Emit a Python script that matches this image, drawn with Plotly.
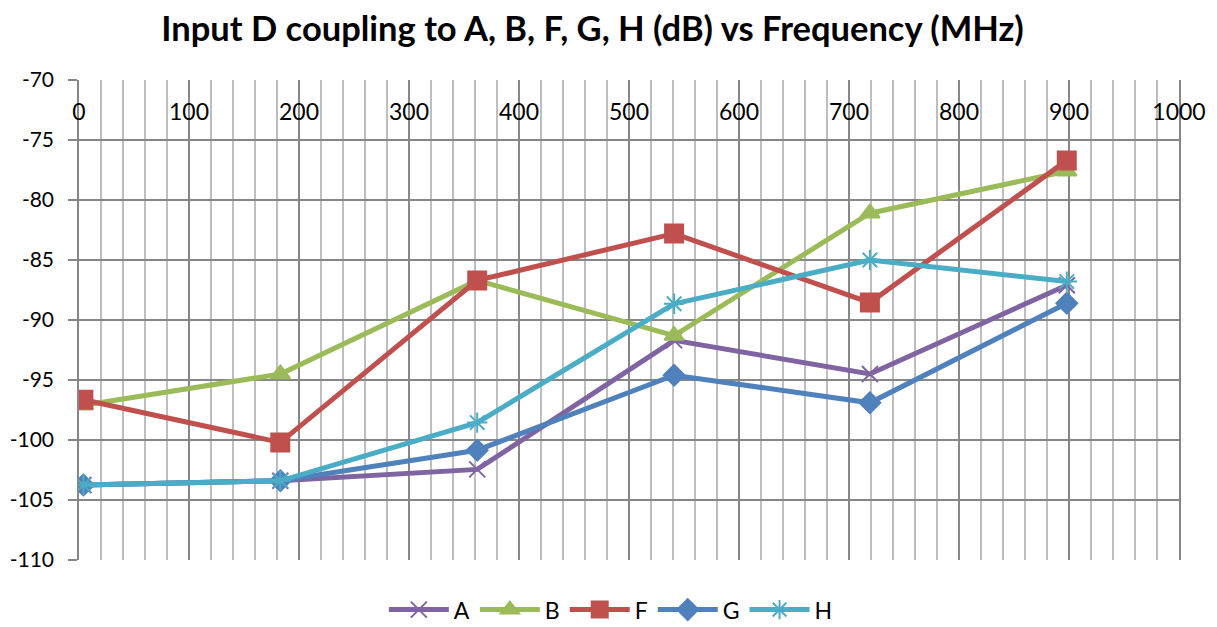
import plotly.graph_objects as go

freq = [4, 183, 362, 541, 719, 898]
series_names = ["A", "B", "F", "G", "H"]
A = [-103.75, -103.4, -102.45, -91.7, -94.5, -87.1]
B = [-97.1, -94.5, -86.7, -91.3, -81.1, -77.6]
F = [-96.65, -100.2, -86.7, -82.8, -88.55, -76.7]
G = [-103.75, -103.4, -100.85, -94.6, -96.9, -88.6]
H = [-103.75, -103.4, -98.55, -88.65, -85.0, -86.8]
x_ticks = [0, 100, 200, 300, 400, 500, 600, 700, 800, 900, 1000]
y_ticks = [-70, -75, -80, -85, -90, -95, -100, -105, -110]

colors = {"A": "#8064A2", "B": "#9BBB59", "F": "#C0504D", "G": "#4F81BD", "H": "#4BACC6"}
symbols = {"A": "x-thin-open", "B": "triangle-up", "F": "square", "G": "diamond", "H": "asterisk-open"}
sizes = {"A": 16, "B": 17, "F": 18, "G": 16, "H": 17}
data = {"A": A, "B": B, "F": F, "G": G, "H": H}

FONT = "Lato"

fig = go.Figure()
for name in series_names:
    c = colors[name]
    fig.add_trace(go.Scatter(
        x=freq, y=data[name], name=name, mode="lines+markers",
        line=dict(color=c, width=5),
        marker=dict(symbol=symbols[name], size=sizes[name], color=c,
                    line=dict(color=c, width=2)),
    ))

# page body has an 8px default margin, so the figure is sized/offset to compensate
fig.update_layout(
    width=1209, height=619,
    margin=dict(l=71, r=38, t=72, b=67, autoexpand=False),
    paper_bgcolor="white", plot_bgcolor="white",
    font=dict(family=FONT, size=22, color="black"),
    title=dict(text="<b>Input D coupling to A, B, F, G, H (dB) vs Frequency (MHz)</b>",
               x=0.4835, xanchor="center", y=0.966, yanchor="middle",
               font=dict(family=FONT, size=34.5, color="black")),
    showlegend=True,
    legend=dict(orientation="h", x=0.4835, xanchor="center", y=0.028, yref="container",
                yanchor="middle", font=dict(family=FONT, size=23), itemwidth=60,
                tracegroupgap=0),
    xaxis=dict(range=[0, 1000], tickvals=x_ticks, ticktext=[str(v) for v in x_ticks],
               anchor="free", position=0.967, side="bottom", automargin=False,
               showline=False, ticks="", zeroline=False,
               showgrid=True, gridcolor="#878787", gridwidth=1.5,
               minor=dict(dtick=20, tick0=0, showgrid=True, gridcolor="#BEBEBE", gridwidth=1.5),
               tickfont=dict(family=FONT, size=23)),
    yaxis=dict(range=[-110, -70], tickvals=y_ticks, ticktext=[str(v) for v in y_ticks],
               automargin=False, ticklabelstandoff=10,
               showline=True, linecolor="#878787", linewidth=1.5, mirror=True,
               ticks="outside", ticklen=9, tickcolor="#878787", tickwidth=1.5,
               showgrid=True, gridcolor="#878787", gridwidth=1.5, zeroline=False,
               tickfont=dict(family=FONT, size=21)),
)

fig.write_html("out.html")
